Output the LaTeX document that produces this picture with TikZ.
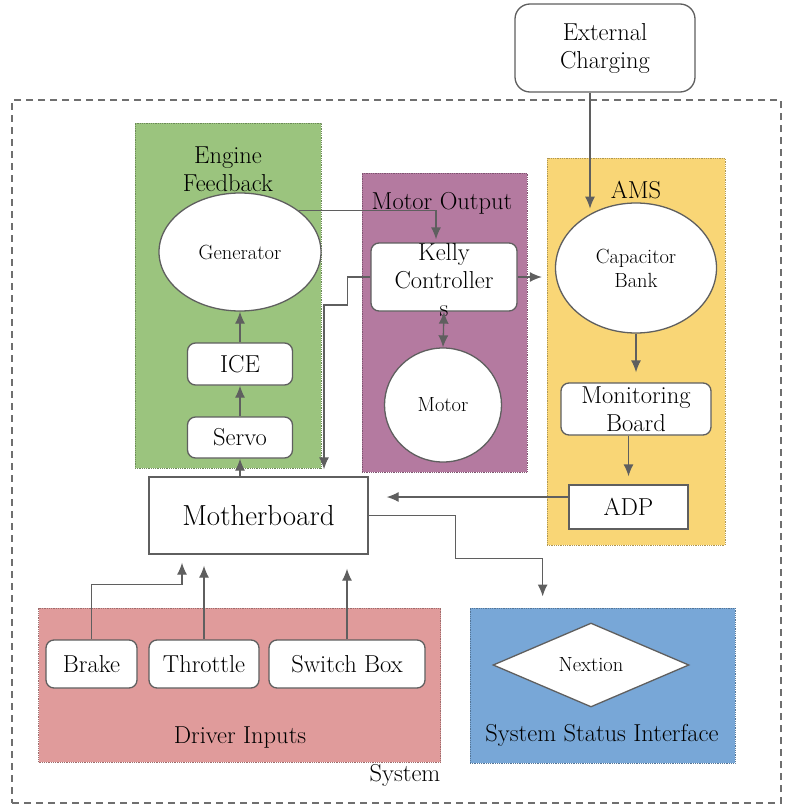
\documentclass[tikz,border=0pt]{standalone}
\usetikzlibrary{shapes.geometric,arrows.meta}
\definecolor{engineg}{RGB}{155,196,126}
\definecolor{motorp}{RGB}{180,122,160}
\definecolor{amsy}{RGB}{249,214,118}
\definecolor{driverr}{RGB}{224,155,155}
\definecolor{statusb}{RGB}{120,167,215}
\definecolor{linegr}{RGB}{95,95,95}

\begin{document}
\begin{tikzpicture}[x=1pt,y=-1pt,
  txt/.style={font=\fontsize{24.5}{28}\selectfont,text=black,align=center,inner sep=0pt},
  smalltxt/.style={font=\fontsize{20.5}{24}\selectfont,text=black,align=center,inner sep=0pt},
  blk/.style={draw=linegr,line width=1.3pt,fill=white,rounded corners=8pt,inner sep=0pt,txt},
  oval/.style={ellipse,draw=linegr,line width=1.3pt,fill=white,inner sep=0pt,smalltxt},
  area/.style={draw=#1!70!black,densely dotted,line width=0.8pt,fill=#1,inner sep=0pt},
  conn/.style={draw=linegr,line width=1.3pt,-{Latex[length=12pt,width=10pt]}},
  dconn/.style={draw=linegr,line width=1.3pt,{Latex[length=12pt,width=10pt]}-{Latex[length=12pt,width=10pt]}}]
\useasboundingbox (0,0) rectangle (790,806);

% system frame and outside block
\node[draw=linegr!90,dash pattern=on 7pt off 5pt,line width=1.3pt,inner sep=0pt,
  minimum width=769,minimum height=703] (system) at (396.5,451.5) {};
\node[blk,rounded corners=15pt,minimum width=180,minimum height=88] (charging) at (605,48) {External\\Charging};

% coloured groups
\node[area=engineg,minimum width=186,minimum height=345] (engine) at (228,295.5) {};
\node[area=motorp,minimum width=165,minimum height=299] (motorout) at (444.5,322.5) {};
\node[area=amsy,minimum width=178,minimum height=387] (ams) at (636,351.5) {};
\node[area=driverr,minimum width=402,minimum height=154] (driver) at (239.5,685) {};
\node[area=statusb,minimum width=265,minimum height=155] (status) at (602.5,685.5) {};

\node[txt] (enginelabel) at (228,169) {Engine\\Feedback};
\node[txt] (motorlabel) at (442,203) {Motor Output};
\node[txt] (amslabel) at (636,190) {AMS};
\node[txt] (driverlabel) at (240,738) {Driver Inputs};
\node[txt] (statuslabel) at (602,735) {System Status Interface};
\node[txt] (systemlabel) at (405,775) {System};

% engine feedback
\node[oval,minimum width=162,minimum height=118] (generator) at (240,252) {Generator};
\node[blk,minimum width=105,minimum height=42] (ice) at (240,364) {ICE};
\node[blk,minimum width=105,minimum height=41] (servo) at (240,437.5) {Servo};

% motor output
\node[blk,minimum width=146,minimum height=68] (kelly) at (444,277) {};
\node[txt] (kellytext) at (444,280) {Kelly\\Controller\\s};
\node[oval,minimum width=117,minimum height=114] (motor) at (443,405) {Motor};

% ams
\node[oval,minimum width=161,minimum height=130] (capbank) at (636,268) {Capacitor\\Bank};
\node[blk,minimum width=150,minimum height=52] (monitor) at (636,409) {Monitoring\\Board};
\node[blk,rounded corners=0pt,minimum width=119,minimum height=44] (adp) at (628.5,507) {ADP};

\node[blk,rounded corners=0pt,font=\fontsize{29}{34}\selectfont,minimum width=219,minimum height=77] (mother) at (258.5,515.5) {Motherboard};

% driver inputs and status
\node[blk,minimum width=91,minimum height=48] (brake) at (91.5,664) {Brake};
\node[blk,minimum width=110,minimum height=48] (throttle) at (204,664) {Throttle};
\node[blk,minimum width=156,minimum height=48] (switchbox) at (347,664) {Switch Box};
\node[diamond,aspect=2.3,draw=linegr,line width=1.3pt,fill=white,inner sep=0pt,smalltxt,
  minimum width=196,minimum height=84] (nextion) at (591,665) {Nextion};

% connections
\draw[conn] ([xshift=-15pt]charging.south) -- ++(0,116);
\draw[conn,shorten >=3pt] (generator.35) -| ([xshift=-8pt]kelly.north);
\draw[conn,shorten >=7pt] (kelly.west) -- ++(-23,0) -- ++(0,28) -| ([xshift=65.5pt]mother.north);
\draw[conn,shorten >=13pt] (kelly.east) -- (kelly.east -| capbank.west);
\draw[dconn] (kelly.south) -- (motor.north);
\draw[conn] (servo) -- (ice);
\draw[conn] (ice) -- (generator);
\draw[conn] (servo.south |- mother.north) -- (servo.south);
\draw[conn,shorten >=10pt] (capbank.south) -- (monitor.north);
\draw[conn,shorten >=8pt] (adp.north |- monitor.south) -- (adp.north);
\draw[conn,shorten >=18pt] ([yshift=10pt]adp.west) -- ([yshift=10pt]adp.west -| mother.east);
\draw[conn] (mother.east) -| ++(87,43) -| ++(87,38);
\draw[conn] (brake.north) -- ++(0,-55) -| ([xshift=-76.5pt,yshift=-8pt]mother.south);
\draw[conn,shorten >=11pt] (throttle.north) -- (throttle.north |- mother.south);
\draw[conn,shorten >=14pt] (switchbox.north) -- (switchbox.north |- mother.south);
\end{tikzpicture}
\end{document}
